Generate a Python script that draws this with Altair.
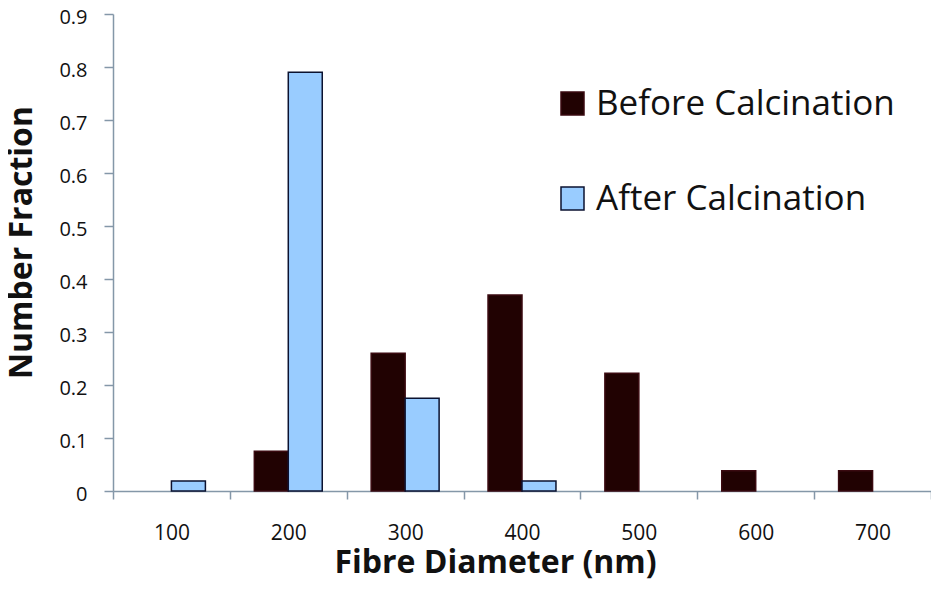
import altair as alt
import pandas as pd

categories = ["100", "200", "300", "400", "500", "600", "700"]
before = [0.0, 0.075, 0.26, 0.37, 0.222, 0.038, 0.038]
after = [0.019, 0.79, 0.175, 0.019, 0.0, 0.0, 0.0]
series = ["Before Calcination", "After Calcination"]

rows = []
for c, b, a in zip(categories, before, after):
    rows.append({"diam": c, "series": series[0], "value": b})
    rows.append({"diam": c, "series": series[1], "value": a})
df = pd.DataFrame(rows)

FONT = "Open Sans"
AXIS_COLOR = "#8497a8"

chart = (
    alt.Chart(df)
    .transform_filter("datum.value > 0")
    .mark_bar(strokeWidth=1.5)
    .encode(
        x=alt.X(
            "diam:N",
            sort=categories,
            scale=alt.Scale(domain=categories, paddingInner=0, paddingOuter=0),
            axis=alt.Axis(
                title="Fibre Diameter (nm)",
                labelAngle=0,
                tickBand="extent",
                tickSize=8,
                labelPadding=23,
                labelFontSize=21,
                labelFont=FONT,
                labelColor="#111111",
                titleFont=FONT,
                titleFontSize=32,
                titleFontWeight="bold",
                titleColor="#111111",
                titlePadding=4,
                titleX=382,
                titleAlign="center",
            ),
        ),
        xOffset=alt.XOffset(
            "series:N",
            scale=alt.Scale(domain=series, paddingInner=0, paddingOuter=0.72),
        ),
        y=alt.Y(
            "value:Q",
            scale=alt.Scale(domain=[0, 0.9], nice=False),
            axis=alt.Axis(
                title="Number Fraction",
                values=[0, 0.1, 0.2, 0.3, 0.4, 0.5, 0.6, 0.7, 0.8, 0.9],
                format=".1~f",
                tickSize=9,
                labelPadding=17,
                labelFontSize=20,
                labelOffset=3,
                labelFont=FONT,
                labelColor="#111111",
                titleFont=FONT,
                titleFontSize=32,
                titleFontWeight="bold",
                titleColor="#111111",
                titlePadding=20,
                titleY=228,
                grid=False,
            ),
        ),
        color=alt.Color(
            "series:N",
            scale=alt.Scale(domain=series, range=["#210202", "#99ccff"]),
            legend=alt.Legend(
                title=None,
                orient="none",
                legendX=442,
                legendY=72,
                symbolType="square",
                symbolSize=529,
                symbolStrokeWidth=1.5,
                labelFontSize=35,
                labelFont=FONT,
                labelColor="#111111",
                labelLimit=500,
                rowPadding=59,
                labelOffset=6,
            ),
        ),
        stroke=alt.Stroke(
            "series:N",
            scale=alt.Scale(domain=series, range=["#3a0a10", "#0b1230"]),
            legend=None,
        ),
    )
    .properties(width=818, height=477)
    .configure_axis(domainColor=AXIS_COLOR, tickColor=AXIS_COLOR, domainWidth=1.5, tickWidth=1.5)
    .configure_view(stroke=None)
    .properties(
        autosize=alt.AutoSizeParams(type="none"),
        padding={"left": 105, "top": 6, "right": 0, "bottom": 95},
    )
)

chart.save("out.html", embed_options={"renderer": "svg", "actions": False})
